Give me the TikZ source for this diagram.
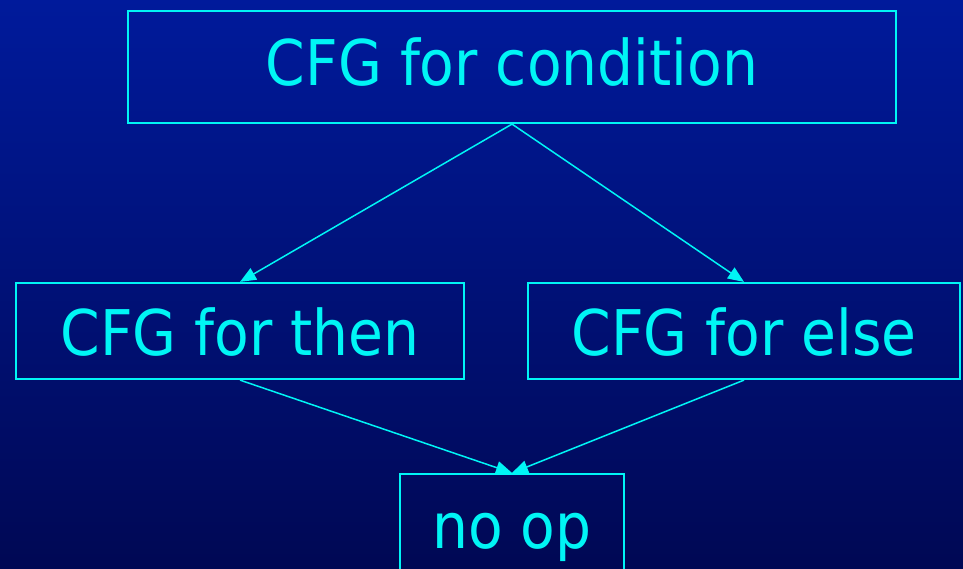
\documentclass[tikz,border=0pt]{standalone}
\usepackage{fontspec}
\setmainfont{DejaVu Sans Condensed}
\usetikzlibrary{arrows.meta}
\definecolor{bgtop}{RGB}{0,26,155}
\definecolor{bgbot}{RGB}{0,8,84}
\definecolor{lineclr}{RGB}{0,245,245}
\tikzset{
  cfgbox/.style={draw=lineclr, line width=2.2pt, text=lineclr, inner sep=0pt,
    font=\fontsize{63}{70}\selectfont, text depth=0pt},
  flow/.style={draw=lineclr, line width=1.5pt,
    -{Triangle[length=16pt,width=13pt]}}
}
\begin{document}
\begin{tikzpicture}[x=1pt,y=-1pt]
  \useasboundingbox (0,0) rectangle (963,569);
  \shade[top color=bgtop, bottom color=bgbot] (0,0) rectangle (963,569);
  \begin{scope}
    \clip (0,0) rectangle (963,569);
    \node[cfgbox, minimum width=768pt, minimum height=112pt, text height=38pt]
      (cond) at (512,67) {CFG for condition};
    \node[cfgbox, minimum width=448pt, minimum height=96pt, text height=48pt]
      (then) at (240,331) {CFG for then};
    \node[cfgbox, minimum width=432pt, minimum height=96pt, text height=48pt]
      (else) at (744,331) {CFG for else};
    \node[cfgbox, minimum width=224pt, minimum height=120pt, text height=28pt]
      (noop) at (512,534) {no op};
    \draw[flow] (cond.south) -- (then.north);
    \draw[flow] (cond.south) -- (else.north);
    \draw[flow] (then.south) -- (noop.north);
    \draw[flow] (else.south) -- (noop.north);
  \end{scope}
\end{tikzpicture}
\end{document}
